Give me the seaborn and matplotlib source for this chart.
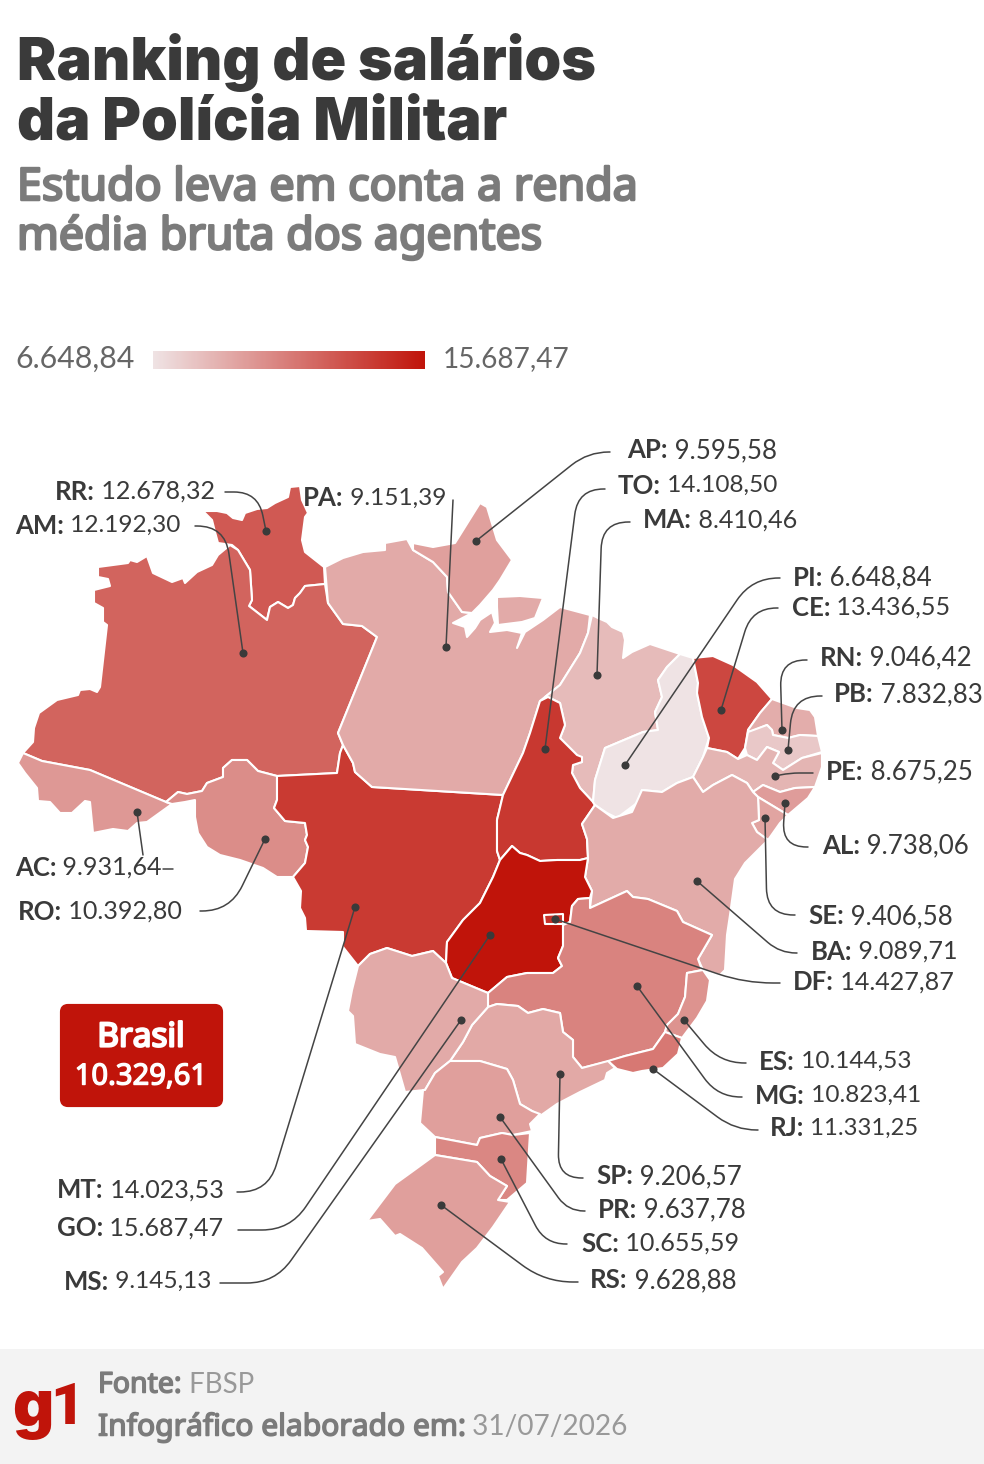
"""
Ranking de salarios da Policia Militar - choropleth map of Brazil rebuilt with seaborn.
"""
import numpy as np
import pandas as pd
import matplotlib
matplotlib.use("Agg")
import matplotlib.pyplot as plt
import matplotlib.patheffects as pe
import seaborn as sns
from matplotlib.colors import Normalize
from matplotlib.patches import FancyBboxPatch, PathPatch, Polygon, Rectangle
from matplotlib.path import Path

# ── Data ──────────────────────────────────────────────────────────────────────
STATES = ["AC", "AL", "AM", "AP", "BA", "CE", "DF", "ES", "GO", "MA", "MG", "MS", "MT", "PA",
          "PB", "PE", "PI", "PR", "RJ", "RN", "RO", "RR", "RS", "SC", "SE", "SP", "TO"]
SALARIES = [9931.64, 9738.06, 12192.30, 9595.58, 9089.71, 13436.55, 14427.87, 10144.53, 15687.47,
            8410.46, 10823.41, 9145.13, 14023.53, 9151.39, 7832.83, 8675.25, 6648.84, 9637.78,
            11331.25, 9046.42, 10392.80, 12678.32, 9628.88, 10655.59, 9406.58, 9206.57, 14108.50]
VMIN, VMAX = 6648.84, 15687.47
BRASIL = 10329.61

# ── Layout (reference pixels) ─────────────────────────────────────────────────
W, H = 984, 1464
DARK = "#3A3A3A"
GREY = "#7B7B7B"
RED = "#C0140A"
HEADING = ["Noto Sans", "DejaVu Sans"]
TITLE = ["Inter", "DejaVu Sans"]

OUTLINES = {
    "RR": [(203,511),(217,511),(227,513),(233,518),(242,520),(245,513),(257,509),(267,508),(275,503),(288,497),
           (290,487),(300,486),(302,500),(308,513),(305,517),(302,540),(305,552),(324,567),(325,584),(305,586),
           (300,593),(295,598),(293,605),(288,608),(278,602),(270,607),(267,620),(249,606),(252,600),(250,570),
           (238,550),(232,545),(218,543),(215,532),(212,520)],
    "AM": [(98,567),(128,563),(130,560),(137,562),(147,556),(153,573),(172,582),(183,578),(185,583),(197,572),
           (212,565),(218,555),(230,545),(238,550),(250,570),(252,600),(249,606),(267,620),(270,607),(278,602),
           (288,608),(293,605),(295,598),(300,593),(305,586),(325,584),(328,603),(343,624),(362,626),(377,637),
           (338,733),(343,745),(340,753),(337,773),(277,776),(258,771),(247,760),(232,760),(223,768),(223,777),
           (207,783),(202,791),(187,794),(178,792),(166,802),(90,770),(42,761),(23,753),(33,742),(34,728),
           (39,713),(57,700),(78,695),(80,690),(90,689),(97,692),(100,687),(107,625),(103,622),(103,608),
           (94,603),(94,590),(110,586),(108,579),(98,577)],
    "AC": [(23,753),(42,761),(90,770),(166,802),(172,804),(147,822),(137,823),(128,831),(113,829),(93,833),
           (90,802),(85,801),(72,813),(60,813),(50,802),(38,801),(37,788),(25,773),(18,763)],
    "RO": [(172,804),(166,802),(178,792),(187,794),(202,791),(207,783),(223,777),(223,768),(232,760),(247,760),
           (258,771),(277,776),(277,800),(274,808),(285,821),(305,823),(307,835),(305,840),(308,847),(305,863),
           (293,877),(277,877),(263,868),(240,860),(220,855),(207,847),(198,833),(195,817),(195,800),(185,802)],
    "MT": [(343,745),(353,763),(355,772),(372,787),(503,795),(497,820),(497,851),(500,860),(493,877),(480,903),
           (463,920),(447,942),(446,963),(433,951),(412,956),(387,948),(370,954),(358,966),(343,947),(343,932),
           (306,931),(305,918),(300,908),(301,891),(293,877),(305,863),(308,847),(305,840),(307,835),(305,823),
           (285,821),(274,808),(277,800),(277,776),(337,773),(340,753)],
    "PA": [(325,567),(343,558),(363,552),(385,550),(385,543),(407,539),(413,550),(433,562),(447,577),(448,592),
           (462,612),(472,613),(453,623),(465,627),(467,637),(475,628),(480,620),(492,612),(495,623),(490,632),
           (507,630),(522,633),(517,648),(525,632),(543,620),(560,607),(590,615),(588,633),(580,653),(560,685),
           (545,697),(540,701),(530,733),(523,753),(503,795),(372,787),(355,772),(353,763),(343,745),(338,733),
           (377,637),(362,626),(343,624),(328,603)],
    "AP": [(413,543),(433,547),(455,543),(480,503),(487,507),(497,540),(512,560),(500,580),(493,590),(480,605),
           (472,613),(462,612),(448,592),(447,577),(433,562),(413,550)],
    "MAR": [(497,597),(520,596),(543,598),(535,618),(522,622),(498,625),(497,607)],
    "MA": [(592,615),(598,618),(607,622),(612,627),(623,632),(625,640),(623,658),(632,652),(650,644),(680,654),
           (667,667),(658,680),(662,697),(655,712),(658,730),(643,732),(605,748),(595,780),(593,802),(580,788),
           (572,773),(573,765),(582,762),(577,755),(560,738),(565,725),(560,703),(552,699),(545,697),(560,685),
           (580,653),(588,633)],
    "TO": [(540,701),(548,697),(560,703),(565,725),(560,738),(577,755),(582,757),(582,762),(573,765),(572,773),
           (580,788),(593,802),(595,805),(582,824),(587,839),(588,858),(580,860),(557,860),(540,861),(527,855),
           (520,853),(512,846),(500,860),(497,851),(497,820),(503,795),(523,753),(530,733)],
    "PI": [(680,654),(693,658),(698,683),(697,693),(702,717),(709,738),(703,757),(693,777),(677,783),(662,792),
           (642,790),(637,803),(617,818),(607,813),(595,805),(593,802),(595,780),(605,748),(643,732),(658,730),
           (655,712),(662,697),(658,680),(667,667)],
    "CE": [(693,658),(713,656),(733,665),(757,682),(772,699),(760,713),(748,730),(745,748),(738,759),(727,752),
           (707,748),(709,738),(702,717),(697,693),(698,683)],
    "RN": [(772,699),(797,708),(810,710),(815,717),(818,736),(800,735),(788,738),(773,735),(772,730),(767,725),
           (750,732),(748,730),(760,713)],
    "PB": [(748,732),(767,725),(772,730),(773,735),(788,738),(800,735),(818,736),(822,752),(802,758),(783,770),
           (773,763),(779,752),(767,747),(757,760),(747,755),(745,748)],
    "PE": [(822,753),(822,767),(815,787),(795,788),(780,792),(763,785),(753,792),(747,783),(732,775),(713,785),
           (703,792),(693,777),(703,757),(707,748),(727,752),(738,759),(747,755),(757,760),(767,747),(779,752),
           (773,763),(783,770),(802,758)],
    "AL": [(815,787),(808,798),(788,815),(758,797),(753,792),(763,785),(780,792),(795,788)],
    "SE": [(758,797),(788,815),(780,823),(768,840),(757,832),(752,823),(759,820)],
    "BA": [(595,805),(613,818),(632,812),(642,790),(662,792),(677,783),(693,777),(703,792),(713,785),(732,775),
           (747,783),(753,792),(758,797),(759,820),(752,823),(757,832),(768,840),(745,863),(735,879),(730,915),
           (727,935),(725,970),(720,975),(703,970),(698,959),(712,935),(683,922),(677,911),(648,899),(633,897),
           (627,891),(590,908),(592,891),(585,877),(588,858),(587,839),(582,824)],
    "GO": [(512,846),(520,853),(527,855),(540,861),(557,860),(580,860),(588,858),(585,877),(592,891),(590,898),
           (578,899),(572,906),(570,922),(563,925),(563,946),(558,958),(562,966),(553,973),(527,973),(507,977),
           (488,993),(452,978),(446,963),(447,942),(463,920),(480,903),(493,877),(500,860)],
    "DF": [(544,915),(563,914),(563,924),(545,924)],
    "MG": [(590,908),(627,891),(633,897),(648,899),(677,911),(683,922),(712,935),(698,959),(702,970),(687,973),
           (685,997),(678,1014),(667,1025),(665,1032),(653,1049),(625,1056),(610,1061),(582,1068),(573,1057),
           (573,1040),(563,1032),(560,1013),(543,1009),(528,1013),(518,1006),(497,1004),(488,1007),(488,993),
           (507,977),(527,973),(553,973),(562,966),(558,958),(563,946),(563,925),(570,922),(572,906),(578,899),
           (590,898)],
    "ES": [(687,973),(703,970),(710,980),(707,1001),(697,1018),(682,1038),(665,1032),(667,1025),(678,1014),(685,997)],
    "RJ": [(665,1032),(682,1038),(678,1054),(663,1068),(642,1071),(633,1073),(617,1069),(608,1061),(625,1056),(653,1049)],
    "SP": [(488,1007),(497,1004),(518,1006),(528,1013),(543,1009),(560,1013),(563,1032),(573,1040),(573,1057),
           (582,1068),(608,1061),(615,1068),(607,1073),(605,1080),(580,1092),(557,1104),(540,1116),(532,1111),
           (520,1104),(513,1080),(507,1069),(480,1061),(450,1061),(463,1042),(472,1025)],
    "MS": [(358,966),(370,954),(387,948),(412,956),(433,951),(446,963),(452,978),(488,993),(488,1007),(472,1025),
           (463,1042),(450,1061),(435,1073),(425,1090),(405,1092),(395,1057),(380,1054),(355,1044),(353,1016),
           (348,1011),(352,990)],
    "PR": [(450,1061),(480,1061),(507,1069),(513,1080),(520,1104),(532,1111),(540,1114),(530,1124),(532,1131),
           (513,1135),(502,1133),(480,1138),(477,1145),(435,1137),(420,1123),(423,1090),(425,1090),(435,1073)],
    "SC": [(435,1137),(477,1145),(480,1138),(502,1133),(513,1135),(530,1133),(527,1183),(507,1200),(498,1200),
           (507,1186),(490,1176),(477,1162),(435,1155)],
    "RS": [(435,1155),(477,1162),(490,1176),(507,1186),(498,1200),(510,1202),(493,1227),(477,1248),(462,1262),
           (443,1289),(438,1276),(443,1272),(422,1248),(400,1234),(395,1236),(380,1219),(367,1221),(395,1184),(413,1171)],
}

# state: marker, bend of the leader, end of the leader
LEADERS = {
    "RR": [(266,531),(258,492),(225,492)], "AM": [(243,653),(225,526),(195,526)],
    "PA": [(446,647),(453,500)],           "AP": [(476,541),(588,452),(610,452)],
    "TO": [(545,749),(578,489),(605,489)], "MA": [(597,675),(602,522),(630,522)],
    "PI": [(625,765),(752,578),(780,578)], "CE": [(721,710),(752,608),(778,608)],
    "RN": [(782,730),(780,660),(807,660)], "PB": [(788,750),(793,696),(822,696)],
    "PE": [(775,776),(790,773),(813,773)], "AL": [(785,803),(782,847),(808,847)],
    "SE": [(765,818),(767,915),(795,915)], "BA": [(697,881),(780,953),(797,953)],
    "DF": [(555,919),(745,983),(780,983)], "ES": [(684,1020),(720,1063),(746,1063)],
    "MG": [(637,986),(718,1097),(742,1097)], "RJ": [(653,1069),(735,1130),(758,1130)],
    "SP": [(560,1074),(558,1178),(583,1178)], "PR": [(500,1117),(568,1211),(585,1211)],
    "SC": [(501,1159),(545,1244),(567,1244)], "RS": [(441,1205),(545,1282),(578,1282)],
    "MT": [(355,907),(268,1192),(237,1192)], "GO": [(490,935),(290,1230),(238,1230)],
    "MS": [(461,1020),(275,1283),(220,1283)], "RO": [(265,839),(230,911),(200,911)],
    "AC": [(137,812),(143,855)],
}

LABEL_POS = {
    "AP": (627,449), "TO": (618,484), "MA": (643,519), "PI": (793,576), "CE": (792,606), "RN": (820,656),
    "PB": (834,693), "PE": (826,770), "AL": (822,844), "SE": (808,915), "BA": (811,950), "DF": (793,981),
    "ES": (759,1060), "MG": (755,1094), "RJ": (770,1127), "SP": (596,1175), "PR": (598,1208), "SC": (581,1242),
    "RS": (590,1279), "MT": (57,1189), "GO": (57,1227), "MS": (64,1280), "RO": (18,910), "AC": (15,866),
    "AM": (15,524), "RR": (55,490), "PA": (303,497),
}


def br_number(value):
    return f"{value:,.2f}".replace(",", "X").replace(".", ",").replace("X", ".")


def leader_path(points, radius=28):
    if len(points) == 2:
        return Path(points, [Path.MOVETO, Path.LINETO])
    dot, bend, end = (np.array(p, dtype=float) for p in points)
    r = min(radius, np.linalg.norm(end - bend) * 0.95, np.linalg.norm(dot - bend) * 0.6)
    p1 = bend + (dot - bend) / np.linalg.norm(dot - bend) * r
    p2 = bend + (end - bend) / np.linalg.norm(end - bend) * r
    return Path([dot, p1, bend, p2, end],
                [Path.MOVETO, Path.LINETO, Path.CURVE3, Path.CURVE3, Path.LINETO])


def fatten(color, width):
    # Noto Sans is only installed in regular weight here
    return [pe.withStroke(linewidth=width, foreground=color)]


# ── Figure ────────────────────────────────────────────────────────────────────
sns.set_theme(style="white")
plt.rcParams["font.family"] = ["Lato", "DejaVu Sans"]

salary = dict(zip(STATES, SALARIES))
salary["MAR"] = salary["PA"]    # Marajó island belongs to Pará
cmap = sns.blend_palette(["#EFE3E4", RED], as_cmap=True)
norm = Normalize(VMIN, VMAX)

fig = plt.figure(figsize=(W / 100, H / 100), dpi=100, facecolor="white")
ax = fig.add_axes([0, 0, 1, 1])
ax.set_xlim(0, W)
ax.set_ylim(H, 0)
ax.axis("off")

# Map
for uf, outline in OUTLINES.items():
    ax.add_patch(Polygon(outline, closed=True, facecolor=cmap(norm(salary[uf])),
                         edgecolor="white", linewidth=1.5, joinstyle="round", zorder=2))

# Leaders and markers
for uf, points in LEADERS.items():
    ax.add_patch(PathPatch(leader_path(points), facecolor="none", edgecolor="#444444",
                           linewidth=1.1, capstyle="round", zorder=3))
ax.plot([163, 173], [869, 869], color="#444444", lw=1.1, zorder=3)

markers = pd.DataFrame({"uf": list(LEADERS), "x": [p[0][0] for p in LEADERS.values()],
                        "y": [p[0][1] for p in LEADERS.values()]})
sns.scatterplot(data=markers, x="x", y="y", ax=ax, color="#3A3A3A", s=34, linewidth=0, legend=False, zorder=4)
ax.set_xlim(0, W)
ax.set_ylim(H, 0)
ax.axis("off")

# Labels: the reference's narrow "1" is copied by shrinking values that have many of them
for uf, (x, y) in LABEL_POS.items():
    code = ax.text(x, y + 1.5, f"{uf}:", fontsize=18.5, fontweight="bold", color=DARK, va="center", ha="left", zorder=5)
    value = br_number(salary[uf])
    ax.annotate(" " + value, xy=(1, 0.5), xycoords=code, va="center", ha="left",
                fontsize=18.6 - 0.5 * value.count("1"), color=DARK, zorder=5)

# Title block
ax.text(17, 80, "Ranking de salários", fontsize=42.5, family=TITLE, fontweight="black", color=DARK, va="baseline")
ax.text(17, 140, "da Polícia Militar", fontsize=42.5, family=TITLE, fontweight="black", color=DARK, va="baseline")
ax.text(17, 188, "Estudo leva em conta a renda", fontsize=32.2, family=HEADING, color=GREY, va="center",
        path_effects=fatten(GREY, 1.8))
ax.text(17, 237, "média bruta dos agentes", fontsize=32.2, family=HEADING, color=GREY, va="center",
        path_effects=fatten(GREY, 1.8))

# Colour ramp
ax.text(15, 359, br_number(VMIN), fontsize=21.8, color="#666666", va="center")
ax.text(443, 359, br_number(VMAX), fontsize=20.2, color="#666666", va="center")
ramp_ax = fig.add_axes([153 / W, 1 - 369 / H, 272 / W, 18 / H])
sns.heatmap(np.linspace(VMIN, VMAX, 256).reshape(1, -1), ax=ramp_ax, cmap=cmap, norm=norm, cbar=False,
            xticklabels=False, yticklabels=False)

# Brasil box
ax.add_patch(FancyBboxPatch((62, 1006), 159, 99, boxstyle="round,pad=0,rounding_size=6", facecolor=RED,
                            edgecolor=RED, linewidth=3, zorder=2, joinstyle="round"))
ax.text(141, 1038, "Brasil", fontsize=24, family=HEADING, color="white", ha="center", va="center", zorder=3,
        path_effects=fatten("white", 1.6))
ax.text(141, 1077, br_number(BRASIL), fontsize=21, family=HEADING, color="white", ha="center", va="center", zorder=3,
        path_effects=fatten("white", 1.0))

# Footer
ax.add_patch(Rectangle((0, 1349), W, H - 1349, facecolor="#F3F3F3", edgecolor="none", zorder=1))
ax.text(12, 1426, "g", fontsize=46, family=TITLE, fontweight="black", color=RED, va="baseline", zorder=3)
ax.text(50, 1424, "1", fontsize=42, family=["Roboto", "DejaVu Sans"], fontweight="black", color=RED,
        va="baseline", zorder=3)
fonte = ax.text(98, 1385, "Fonte:", fontsize=20.5, family=HEADING, color=GREY, va="center", zorder=3,
                path_effects=fatten(GREY, 1.1))
ax.annotate(" FBSP", xy=(1, 0.5), xycoords=fonte, va="center", fontsize=20, color="#999999", zorder=3)
info = ax.text(98, 1427, "Infográfico elaborado em:", fontsize=21.6, family=HEADING, color=GREY, va="center",
               zorder=3, path_effects=fatten(GREY, 1.1))
ax.annotate(" 31/07/2026", xy=(1, 0.5), xycoords=info, va="center", fontsize=20.2, color="#999999", zorder=3)

fig.savefig("out.png", dpi=100)
plt.close(fig)
